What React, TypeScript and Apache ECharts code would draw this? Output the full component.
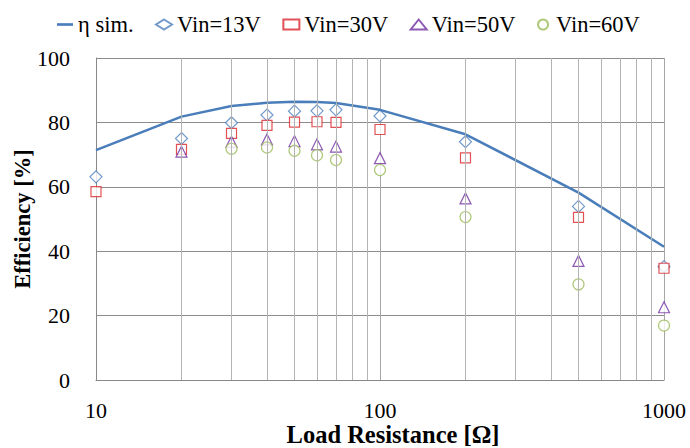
import React, { useEffect, useRef } from "react";
import * as echarts from "echarts";

const resistances = [10, 20, 30, 40, 50, 60, 70, 100, 200, 500, 1000];
const etaSim = [71.4, 81.8, 85.1, 86.1, 86.4, 86.3, 86.0, 83.9, 76.3, 58.2, 41.4];
const vin13 = [63.1, 75.0, 79.9, 82.3, 83.5, 83.6, 83.9, 82.0, 74.0, 53.9, 35.2];
const vin30 = [58.5, 71.6, 76.6, 79.1, 80.1, 80.2, 80.0, 77.8, 69.0, 50.5, 34.7];
const vin50 = [null, 70.9, 74.0, 74.7, 74.2, 73.2, 72.5, 68.9, 56.4, 37.0, 22.6];
const vin60 = [null, null, 71.8, 72.2, 71.2, 69.8, 68.3, 65.2, 50.6, 29.7, 16.9];
const minorGrid = [20, 30, 40, 50, 60, 70, 80, 90, 200, 300, 400, 500, 600, 700, 800, 900];
const yTicks = [0, 20, 40, 60, 80, 100];

const pairs = (vals: (number | null)[]) =>
  resistances.map((r, i) => [r, vals[i]] as [number, number | null]).filter((p) => p[1] !== null);

const FONT = "'Liberation Serif', 'Times New Roman', serif";
const legendText = { fontFamily: FONT, fontSize: 22.5, color: "#000" };

export default function App() {
  const ref = useRef<HTMLDivElement>(null);
  useEffect(() => {
    document.body.style.margin = "0";
    const chart = echarts.init(ref.current!, undefined, { renderer: "svg" });
    const scatter = (name: string, vals: (number | null)[], symbol: string, size: number, color: string) => ({
      name,
      type: "scatter",
      data: pairs(vals),
      symbol,
      symbolSize: size,
      itemStyle: { color: "#ffffff", borderColor: color, borderWidth: 1.2 },
      z: 3,
    });
    chart.setOption({
      animation: false,
      backgroundColor: "#ffffff",
      textStyle: { fontFamily: FONT },
      legend: {
        left: 52,
        top: 8,
        itemGap: 21.5,
        itemWidth: 16,
        itemHeight: 10,
        textStyle: legendText,
        data: [
          { name: "η sim.", icon: "path://M0,0H18V3H0Z", textStyle: legendText },
          { name: "Vin=13V", textStyle: legendText },
          { name: "Vin=30V", textStyle: legendText },
          { name: "Vin=50V", textStyle: legendText },
          { name: "Vin=60V", textStyle: legendText },
        ],
      },
      grid: { left: 96, right: 26, top: 58, bottom: 68, containLabel: false, outerBoundsMode: "none" },
      xAxis: {
        type: "log",
        logBase: 10,
        min: 10,
        max: 1000,
        name: "Load Resistance [Ω]",
        nameLocation: "middle",
        nameGap: 42,
        nameMoveOverlap: false,
        nameTextStyle: {
          fontFamily: FONT,
          fontSize: 24.5,
          lineHeight: 24,
          fontWeight: "bold",
          color: "#000",
          padding: [0, 0, 0, 26],
        },
        axisLine: { show: true, lineStyle: { color: "#888888", width: 1 } },
        axisTick: { show: false },
        axisLabel: {
          fontFamily: FONT,
          fontSize: 22,
          lineHeight: 20,
          color: "#000",
          margin: 20,
          formatter: (v: number) => String(Math.round(v)),
        },
        splitLine: { show: true, lineStyle: { color: "#a6a6a6", width: 1 } },
      },
      yAxis: {
        type: "value",
        min: yTicks[0],
        max: yTicks[yTicks.length - 1],
        interval: 20,
        name: "Efficiency [%]",
        nameLocation: "middle",
        nameGap: 62,
        nameMoveOverlap: false,
        nameTextStyle: { fontFamily: FONT, fontSize: 22.5, fontWeight: "bold", color: "#000" },
        axisLine: { show: true, lineStyle: { color: "#888888", width: 1 } },
        axisTick: { show: false },
        axisLabel: { fontFamily: FONT, fontSize: 22, color: "#000", margin: 26 },
        splitLine: { show: true, lineStyle: { color: "#8c8c8c", width: 1 } },
      },
      series: [
        {
          name: "grid",
          type: "line",
          data: [],
          z: 1,
          silent: true,
          markLine: {
            silent: true,
            symbol: ["none", "none"],
            label: { show: false },
            lineStyle: { color: "#b3b3b3", type: "solid", width: 1 },
            data: minorGrid.map((v) => ({ xAxis: v })),
          },
        },
        scatter("Vin=13V", vin13, "diamond", 12, "#4F81BD"),
        scatter("Vin=30V", vin30, "rect", 10, "#D9252B"),
        scatter("Vin=50V", vin50, "triangle", 11, "#7030A0"),
        scatter("Vin=60V", vin60, "circle", 11, "#9BBB59"),
        {
          name: "η sim.",
          type: "line",
          data: pairs(etaSim),
          symbol: "none",
          lineStyle: { color: "#4A7EBB", width: 2.5 },
          itemStyle: { color: "#4A7EBB" },
          z: 4,
        },
      ],
    });
    return () => chart.dispose();
  }, []);
  return <div ref={ref} style={{ width: 690, height: 448 }} />;
}
